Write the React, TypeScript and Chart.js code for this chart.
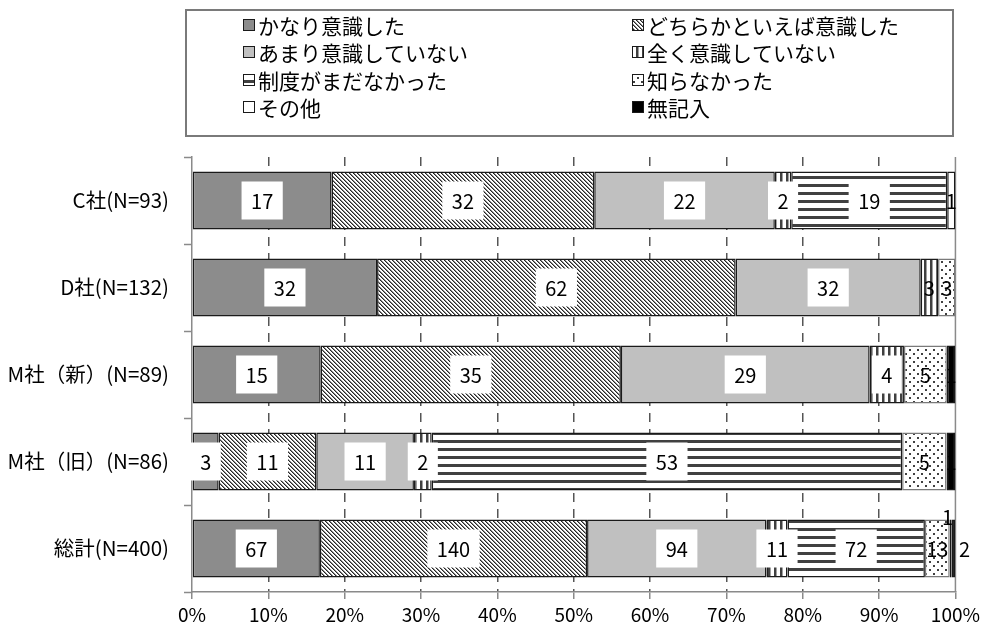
import { useEffect, useRef } from 'react';
import { Chart, registerables } from 'chart.js';
Chart.register(...registerables);

// ---- data ----
const categories = ['C社(N=93)', 'D社(N=132)', 'M社（新）(N=89)', 'M社（旧）(N=86)', '総計(N=400)'];
const seriesNames = ['かなり意識した', 'どちらかといえば意識した', 'あまり意識していない', '全く意識していない', '制度がまだなかった', '知らなかった', 'その他', '無記入'];
const kanari = [17, 32, 15, 3, 67];
const dochiraka = [32, 62, 35, 11, 140];
const amari = [22, 32, 29, 11, 94];
const mattaku = [2, 3, 4, 2, 11];
const seido = [19, 0, 0, 53, 72];
const shiranakatta = [0, 3, 5, 5, 13];
const sonota = [1, 0, 0, 0, 1];
const mukinyu = [0, 0, 1, 1, 2];
const totals = [93, 132, 89, 86, 400];
const xTicks = [0, 10, 20, 30, 40, 50, 60, 70, 80, 90, 100];

const counts = [kanari, dochiraka, amari, mattaku, seido, shiranakatta, sonota, mukinyu];

const FONT = '"Noto Sans CJK JP", "Noto Sans", sans-serif';

// label styling tweaks (series index, category index) -> nudge in px
const labelNudges: Record<string, [number, number]> = { '6-4': [-3, -32], '7-4': [11, 0] };
const noBox: Record<string, boolean> = { '3-1': true };

function makePattern(ctx: CanvasRenderingContext2D, kind: number): any {
  const c = document.createElement('canvas');
  const g = c.getContext('2d')!;
  if (kind === 0) return '#8c8c8c';
  if (kind === 2) return '#c0c0c0';
  if (kind === 6) return '#ffffff';
  if (kind === 7) return '#000000';
  if (kind === 1) {
    c.width = 4; c.height = 4;
    g.fillStyle = '#fff'; g.fillRect(0, 0, 4, 4);
    for (let i = 0; i < 4; i++) {
      g.fillStyle = '#262626'; g.fillRect(i, i, 1, 1);
      g.fillStyle = '#8a8a8a'; g.fillRect((i + 1) % 4, i, 1, 1);
    }
  } else if (kind === 3) {
    c.width = 6; c.height = 6;
    g.fillStyle = '#fff'; g.fillRect(0, 0, 6, 6);
    g.fillStyle = '#404040'; g.fillRect(0, 0, 2.5, 6);
  } else if (kind === 4) {
    c.width = 8; c.height = 8;
    g.fillStyle = '#fff'; g.fillRect(0, 0, 8, 8);
    g.fillStyle = '#404040'; g.fillRect(0, 0, 8, 3);
  } else if (kind === 5) {
    c.width = 8; c.height = 8;
    g.fillStyle = '#fff'; g.fillRect(0, 0, 8, 8);
    g.fillStyle = '#404040'; g.fillRect(1, 1, 2, 2); g.fillRect(5, 5, 2, 2);
  }
  return ctx.createPattern(c, 'repeat');
}

const labelPlugin = {
  id: 'valueLabels',
  afterDatasetsDraw(chart: any) {
    const ctx = chart.ctx as CanvasRenderingContext2D;
    ctx.save();
    ctx.font = `20px ${FONT}`;
    ctx.textAlign = 'center';
    ctx.textBaseline = 'middle';
    chart.data.datasets.forEach((_ds: any, di: number) => {
      const meta = chart.getDatasetMeta(di);
      meta.data.forEach((bar: any, i: number) => {
        const n = counts[di][i];
        if (!n) return;
        const p = bar.getProps(['x', 'base', 'y'], true);
        let cx = (p.x + p.base) / 2;
        let cy = p.y;
        const key = `${di}-${i}`;
        if (labelNudges[key]) { cx += labelNudges[key][0]; cy += labelNudges[key][1]; }
        const txt = String(n);
        const w = ctx.measureText(txt).width;
        if (di <= 4 && !noBox[key]) {
          ctx.fillStyle = '#fff';
          ctx.fillRect(cx - w / 2 - 9.5, cy - 19, w + 19, 38);
        }
        ctx.fillStyle = '#000';
        ctx.fillText(txt, cx, cy + 1);
      });
    });
    ctx.restore();
  },
};

const frameLinePlugin = {
  id: 'frameLine',
  beforeDatasetsDraw(chart: any) {
    const { ctx, chartArea, scales } = chart;
    const x = scales.x.getPixelForValue(100);
    ctx.save();
    ctx.strokeStyle = '#8a8a8a';
    ctx.lineWidth = 1.5;
    ctx.beginPath();
    ctx.moveTo(x, chartArea.top);
    ctx.lineTo(x, chartArea.bottom);
    ctx.stroke();
    ctx.restore();
  },
};

const legendPlugin = {
  id: 'boxLegend',
  afterDraw(chart: any) {
    const ctx = chart.ctx as CanvasRenderingContext2D;
    ctx.save();
    ctx.strokeStyle = '#7a7a7a';
    ctx.lineWidth = 2;
    ctx.strokeRect(186, 10, 767, 126);
    ctx.font = `21px ${FONT}`;
    ctx.textBaseline = 'middle';
    ctx.textAlign = 'left';
    const colX = [243, 632];
    const rowY = [25, 52, 80, 107];
    chart.data.datasets.forEach((ds: any, di: number) => {
      const col = di % 2;
      const row = Math.floor(di / 2);
      const mx = colX[col];
      const my = rowY[row];
      ctx.fillStyle = ds.backgroundColor;
      ctx.fillRect(mx, my - 6, 12, 12);
      ctx.strokeStyle = '#1a1a1a';
      ctx.lineWidth = 1;
      ctx.strokeRect(mx + 0.5, my - 5.5, 11, 11);
      ctx.fillStyle = '#000';
      ctx.fillText(ds.label, mx + 15, my + 1);
    });
    ctx.restore();
  },
};

export default function App() {
  const ref = useRef<HTMLCanvasElement>(null);
  useEffect(() => {
    const canvas = ref.current!;
    const ctx = canvas.getContext('2d')!;
    const datasets = seriesNames.map((name, si) => ({
      label: name,
      data: counts[si].map((v, i) => (v / totals[i]) * 100),
      backgroundColor: makePattern(ctx, si),
      borderColor: si === 5 ? '#7a7a7a' : '#1a1a1a',
      borderWidth: 1.5,
      borderSkipped: false,
      barPercentage: 0.667,
      categoryPercentage: 1,
    }));
    const chart = new Chart(canvas, {
      type: 'bar',
      data: { labels: categories, datasets },
      options: {
        responsive: false,
        animation: false,
        indexAxis: 'y',
        layout: { padding: { top: 157, right: 28, left: 0, bottom: 0 } },
        plugins: { legend: { display: false }, tooltip: { enabled: false } },
        scales: {
          x: {
            stacked: true,
            min: 0,
            max: 100,
            afterBuildTicks: (s: any) => { s.ticks = xTicks.map((v) => ({ value: v })); },
            ticks: { callback: (v: any) => v + '%', font: { family: FONT, size: 19 }, color: '#000', padding: 4, maxRotation: 0 },
            grid: {
              color: (c: any) => (c.tick && (c.tick.value === 0 || c.tick.value === 100) ? 'rgba(0,0,0,0)' : '#555555'),
              lineWidth: 1.5,
              tickLength: 7,
              tickColor: '#8a8a8a',
              tickWidth: 1.5,
            },
            border: { display: true, color: '#8a8a8a', width: 1.5, dash: [9, 7] },
            afterFit: (s: any) => { s.height = 41; },
          },
          y: {
            stacked: true,
            ticks: { font: { family: FONT, size: 20.5 }, color: '#000', padding: 15 },
            grid: { drawOnChartArea: false, tickLength: 8, tickColor: '#8a8a8a', tickWidth: 1.5, offset: true },
            border: { display: true, color: '#8a8a8a', width: 1.5 },
            afterFit: (s: any) => { s.width = 192; },
          },
        },
      },
      plugins: [frameLinePlugin, labelPlugin, legendPlugin],
    } as any);
    return () => chart.destroy();
  }, []);
  return (
    <div style={{ position: 'absolute', left: 0, top: 0, width: 984, height: 633, background: '#fff' }}>
      <canvas ref={ref} width={984} height={633} style={{ display: 'block' }} />
    </div>
  );
}
